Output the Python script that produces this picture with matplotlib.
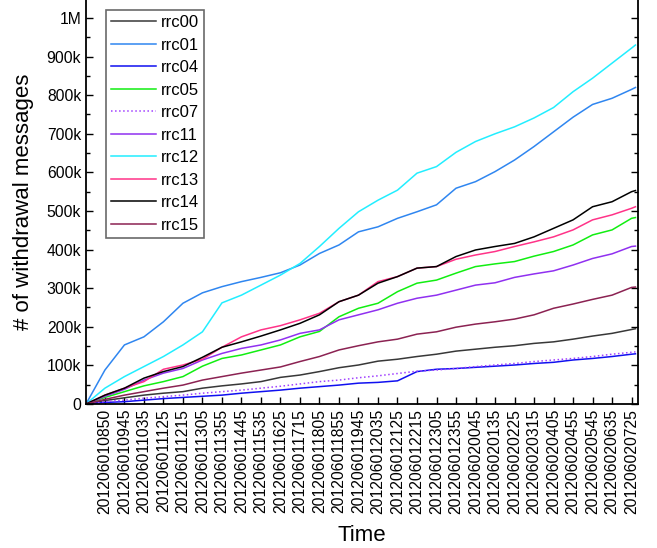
import matplotlib
matplotlib.use('Agg')
import matplotlib.pyplot as plt
from matplotlib.ticker import MultipleLocator, FuncFormatter

plt.rcParams['font.family'] = ['Liberation Sans', 'DejaVu Sans']

# tick labels on the time axis
time_labels = ['201206010850', '201206010945', '201206011035', '201206011125',
               '201206011215', '201206011305', '201206011355', '201206011445',
               '201206011535', '201206011625', '201206011715', '201206011805',
               '201206011855', '201206011945', '201206012035', '201206012125',
               '201206012215', '201206012305', '201206012355', '201206020045',
               '201206020135', '201206020225', '201206020315', '201206020405',
               '201206020455', '201206020545', '201206020635', '201206020725']

# sample positions: start, each tick label, end (in tick units)
pos = [-0.97] + list(range(28)) + [27.2]

# cumulative withdrawals (thousands), read at the positions above
rrc00 = [0, 9, 16, 23, 28, 32, 41, 47, 52, 58, 69, 75, 84, 94, 101, 111, 116, 123, 129,
         137, 142, 147, 151, 157, 161, 168, 176, 183, 193, 195]
rrc01 = [0, 88, 153, 174, 213, 261, 288, 304, 317, 328, 340, 360, 390, 412, 446, 459, 481,
         498, 516, 559, 576, 602, 632, 667, 705, 743, 776, 792, 815, 820]
rrc04 = [0, 4, 6, 10, 14, 17, 20, 23, 28, 32, 36, 41, 45, 49, 54, 56, 60, 84, 90, 92, 95,
         98, 101, 105, 108, 114, 118, 123, 129, 130]
rrc05 = [0, 17, 32, 47, 58, 71, 98, 118, 127, 140, 153, 174, 188, 226, 248, 261, 291, 313,
         321, 339, 356, 363, 369, 383, 395, 412, 438, 451, 481, 483]
rrc07 = [0, 6, 10, 15, 19, 23, 28, 32, 36, 41, 46, 52, 58, 62, 68, 73, 79, 85, 88, 92, 97,
         101, 105, 110, 114, 118, 123, 129, 134, 135]
rrc11 = [0, 20, 38, 62, 80, 92, 114, 131, 144, 153, 166, 183, 192, 218, 231, 244, 261, 274,
         282, 295, 308, 314, 328, 337, 345, 360, 377, 389, 408, 409]
rrc12 = [0, 41, 71, 97, 123, 153, 187, 262, 282, 308, 334, 364, 408, 455, 498, 528, 554, 598,
         615, 652, 680, 700, 718, 741, 768, 809, 844, 883, 922, 930]
rrc13 = [0, 23, 41, 58, 90, 101, 116, 147, 174, 192, 203, 218, 235, 265, 282, 317, 330, 352,
         356, 375, 386, 395, 408, 420, 433, 451, 477, 490, 507, 511]
rrc14 = [0, 23, 41, 67, 84, 97, 121, 147, 161, 176, 192, 209, 231, 265, 282, 313, 330, 352,
         356, 382, 399, 408, 416, 433, 455, 477, 511, 524, 550, 553]
rrc15 = [0, 12, 23, 32, 41, 49, 62, 71, 80, 88, 96, 110, 123, 140, 151, 161, 168, 181, 187,
         199, 207, 213, 220, 231, 248, 259, 271, 282, 302, 303]

names = ['rrc00', 'rrc01', 'rrc04', 'rrc05', 'rrc07', 'rrc11', 'rrc12', 'rrc13', 'rrc14', 'rrc15']
series = [rrc00, rrc01, rrc04, rrc05, rrc07, rrc11, rrc12, rrc13, rrc14, rrc15]
colors = ['#383838', '#2f86f0', '#1010f0', '#11ee11', '#a040ff', '#9030f0',
          '#22eeff', '#ff3388', '#000000', '#8b2252']
styles = ['-', '-', '-', '-', ':', '-', '-', '-', '-', '-']

fig = plt.figure(figsize=(6.57, 5.48), dpi=100)
ax = fig.add_axes([86 / 657, 1 - 404 / 548, (638 - 86) / 657, 404 / 548])

for name, vals, c, ls in zip(names, series, colors, styles):
    ax.plot(pos, [v * 1000 for v in vals], color=c, linestyle=ls, linewidth=1.1, label=name)

ax.set_xlim(-0.97, 27.33)
ax.set_ylim(0, 1.0466e6)
ax.set_xticks(range(len(time_labels)))
ax.set_xticklabels(time_labels, rotation=90, fontsize=11.3)
ax.yaxis.set_major_locator(MultipleLocator(100000))
ax.yaxis.set_minor_locator(MultipleLocator(50000))


def fmt(v, p):
    if v == 0:
        return '0'
    if v >= 1e6:
        return '%dM' % round(v / 1e6)
    return '%dk' % round(v / 1000)


ax.yaxis.set_major_formatter(FuncFormatter(fmt))
ax.tick_params(axis='y', labelsize=11.3)
ax.tick_params(axis='both', which='both', direction='in', right=True, top=False)
ax.tick_params(axis='both', which='major', length=5, width=1)
ax.tick_params(axis='y', which='minor', length=3, width=1)
ax.spines['top'].set_visible(False)
for s in ['left', 'right', 'bottom']:
    ax.spines[s].set_linewidth(1.3)

ax.set_xlabel('Time', fontsize=16, labelpad=8)
ax.set_ylabel('# of withdrawal messages', fontsize=16, labelpad=9)

leg = ax.legend(loc='upper left', bbox_to_anchor=(0.036, 0.975), fontsize=12,
                handlelength=2.7, labelspacing=0.45, fancybox=False,
                edgecolor='#444444', borderaxespad=0, handletextpad=0.3,
                borderpad=0.3)
leg.get_frame().set_linewidth(1.2)

fig.savefig('out.png', dpi=100)
